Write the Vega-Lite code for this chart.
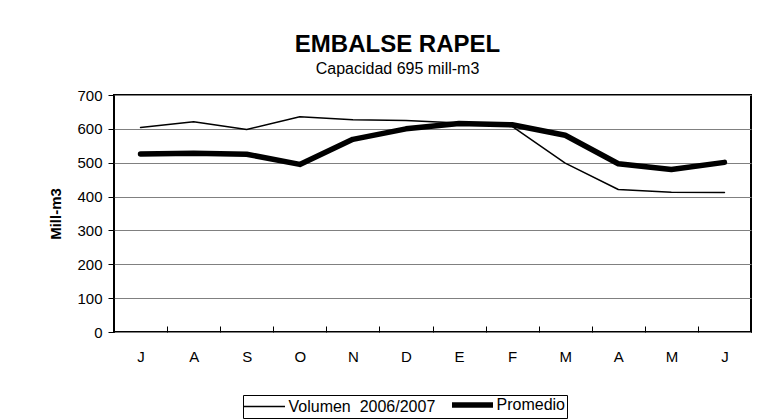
{
  "$schema": "https://vega.github.io/schema/vega-lite/v6.json",
  "width": 637,
  "height": 237,
  "autosize": {"type": "none"},
  "padding": {"left": 114, "top": 95, "right": 24, "bottom": 87},
  "background": "white",
  "title": {
    "text": "EMBALSE RAPEL",
    "subtitle": "Capacidad 695 mill-m3",
    "font": "Liberation Sans",
    "fontSize": 24,
    "fontWeight": "bold",
    "color": "black",
    "subtitleFont": "Liberation Sans",
    "subtitleFontSize": 16,
    "subtitleColor": "black",
    "subtitlePadding": 4,
    "anchor": "middle",
    "dx": -35,
    "offset": 11
  },
  "data": {
    "values": [
      {"mes": "Jul", "serie": "Volumen \u00a02006/2007", "valor": 604},
      {"mes": "Ago", "serie": "Volumen \u00a02006/2007", "valor": 621},
      {"mes": "Sep", "serie": "Volumen \u00a02006/2007", "valor": 598},
      {"mes": "Oct", "serie": "Volumen \u00a02006/2007", "valor": 636},
      {"mes": "Nov", "serie": "Volumen \u00a02006/2007", "valor": 627},
      {"mes": "Dic", "serie": "Volumen \u00a02006/2007", "valor": 625},
      {"mes": "Ene", "serie": "Volumen \u00a02006/2007", "valor": 617},
      {"mes": "Feb", "serie": "Volumen \u00a02006/2007", "valor": 607},
      {"mes": "Mar", "serie": "Volumen \u00a02006/2007", "valor": 499},
      {"mes": "Abr", "serie": "Volumen \u00a02006/2007", "valor": 421},
      {"mes": "May", "serie": "Volumen \u00a02006/2007", "valor": 413},
      {"mes": "Jun", "serie": "Volumen \u00a02006/2007", "valor": 412},
      {"mes": "Jul", "serie": "Promedio", "valor": 526},
      {"mes": "Ago", "serie": "Promedio", "valor": 528},
      {"mes": "Sep", "serie": "Promedio", "valor": 525},
      {"mes": "Oct", "serie": "Promedio", "valor": 495},
      {"mes": "Nov", "serie": "Promedio", "valor": 569},
      {"mes": "Dic", "serie": "Promedio", "valor": 600},
      {"mes": "Ene", "serie": "Promedio", "valor": 616},
      {"mes": "Feb", "serie": "Promedio", "valor": 612},
      {"mes": "Mar", "serie": "Promedio", "valor": 581},
      {"mes": "Abr", "serie": "Promedio", "valor": 497},
      {"mes": "May", "serie": "Promedio", "valor": 480},
      {"mes": "Jun", "serie": "Promedio", "valor": 501}
    ]
  },
  "mark": {"type": "line", "color": "black", "strokeCap": "round", "strokeJoin": "round"},
  "encoding": {
    "x": {
      "field": "mes",
      "type": "ordinal",
      "sort": ["Jul", "Ago", "Sep", "Oct", "Nov", "Dic", "Ene", "Feb", "Mar", "Abr", "May", "Jun"],
      "scale": {"paddingInner": 0, "paddingOuter": 0},
      "axis": {
        "title": null,
        "labelAngle": 0,
        "labelExpr": "substring(datum.label, 0, 1)",
        "labelFont": "Liberation Sans",
        "labelFontSize": 15,
        "labelColor": "black",
        "labelPadding": 23,
        "tickBand": "extent",
        "tickSize": -6,
        "tickColor": "black",
        "tickWidth": 1,
        "domain": false,
        "grid": false
      }
    },
    "y": {
      "field": "valor",
      "type": "quantitative",
      "scale": {"domain": [0, 700], "nice": false},
      "axis": {
        "title": "Mill-m3",
        "titleFont": "Liberation Sans",
        "titleFontSize": 15,
        "titleFontWeight": "bold",
        "titleColor": "black",
        "titlePadding": 13,
        "values": [0, 100, 200, 300, 400, 500, 600, 700],
        "labelFont": "Liberation Sans",
        "labelFontSize": 15,
        "labelColor": "black",
        "labelPadding": 6,
        "tickSize": 6,
        "tickColor": "black",
        "tickWidth": 1,
        "domain": false,
        "grid": true,
        "gridColor": "#808080",
        "gridWidth": 1
      }
    },
    "strokeWidth": {
      "field": "serie",
      "type": "nominal",
      "scale": {"domain": ["Volumen \u00a02006/2007", "Promedio"], "range": [1.5, 5.5]},
      "legend": {
        "title": null,
        "orient": "none",
        "legendX": 129,
        "legendY": 300,
        "direction": "horizontal",
        "symbolType": "M-4.1,0H4.1",
        "symbolStrokeColor": "black",
        "symbolSize": 100,
        "symbolOffset": 11.5,
        "labelFont": "Liberation Sans",
        "labelFontSize": 16,
        "labelColor": "black",
        "labelOffset": 16,
        "columnPadding": 5,
        "padding": 2,
        "strokeColor": "black",
        "labelLimit": 300
      }
    }
  },
  "config": {
    "view": {"stroke": "black", "strokeWidth": 2},
    "line": {"color": "black"}
  }
}
